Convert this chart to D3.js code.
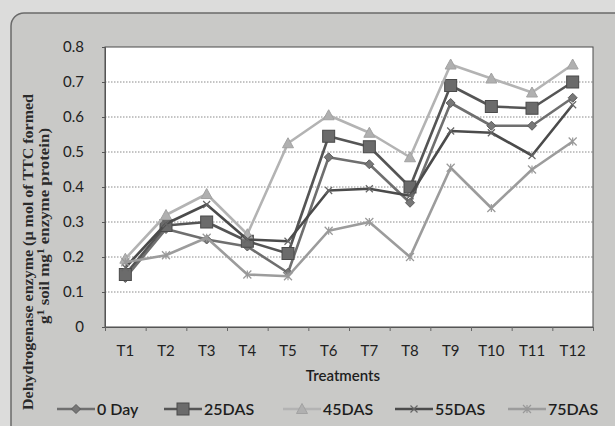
<!DOCTYPE html>
<html><head><meta charset="utf-8">
<script src="https://cdnjs.cloudflare.com/ajax/libs/d3/7.8.5/d3.min.js"></script>
<style>
html,body{margin:0;padding:0;background:#dcdcdb;}
svg{display:block;}
</style></head><body>
<svg id="c" width="615" height="426"></svg>
<script>
const categories = ["T1","T2","T3","T4","T5","T6","T7","T8","T9","T10","T11","T12"];
const seriesNames = ["0 Day","25DAS","45DAS","55DAS","75DAS"];
const day0  = [0.14,0.28,0.25,0.23,0.155,0.485,0.465,0.355,0.64,0.575,0.575,0.655];
const das25 = [0.15,0.29,0.30,0.245,0.21,0.545,0.515,0.40,0.69,0.63,0.625,0.70];
const das45 = [0.195,0.32,0.38,0.265,0.525,0.605,0.555,0.485,0.75,0.71,0.67,0.75];
const das55 = [0.17,0.295,0.35,0.25,0.245,0.39,0.395,0.375,0.56,0.555,0.49,0.635];
const das75 = [0.185,0.205,0.255,0.15,0.145,0.275,0.30,0.20,0.455,0.34,0.45,0.53];
const yTicks = [0,0.1,0.2,0.3,0.4,0.5,0.6,0.7,0.8];

const seriesValues = [day0, das25, das45, das55, das75];
const styles = [
  {line:"#6f6f6f", fill:"#777", stroke:"#5c5c5c", marker:"diamond", size:9},
  {line:"#555",    fill:"#6b6b6b", stroke:"#4a4a4a", marker:"square", size:12},
  {line:"#b3b3b3", fill:"#b0b0b0", stroke:"#a2a2a2", marker:"triangle", size:11},
  {line:"#4b4b4b", fill:"none", stroke:"#666", marker:"x", size:7},
  {line:"#9c9c9c", fill:"none", stroke:"#999", marker:"star", size:8}
];

const svg = d3.select("#c");
// chart area background
svg.append("rect").attr("x",11).attr("y",13).attr("width",640).attr("height",450)
  .attr("rx",13).attr("fill","#c9c9c7").attr("stroke","#6a6a6a").attr("stroke-width",1.5);

const L=105, R=593, T=47, B=327;
const x = d3.scaleBand().domain(categories).range([L,R]).paddingInner(0).paddingOuter(0);
const xb = d3.scaleLinear().domain([0,12]).range([L,R]);
const y = d3.scaleLinear().domain([0,0.8]).range([B,T]);

svg.append("rect").attr("x",L).attr("y",T).attr("width",R-L).attr("height",B-T).attr("fill","#fff");

// gridlines
svg.append("g").selectAll("line").data(yTicks.filter(v=>v>0 && v<0.8)).join("line")
  .attr("x1",L).attr("x2",R).attr("y1",d=>y(d)).attr("y2",d=>y(d))
  .attr("stroke","#8a8a8a").attr("stroke-width",1).attr("stroke-dasharray","1.5,1.5");

// plot border
svg.append("rect").attr("x",L).attr("y",T).attr("width",R-L).attr("height",B-T)
  .attr("fill","none").attr("stroke","#4a4a4a").attr("stroke-width",1);

// y axis
const gy = svg.append("g").attr("transform",`translate(${L},0)`)
  .call(d3.axisLeft(y).tickValues(yTicks).tickSize(3).tickPadding(18)
    .tickFormat(d=> d===0 ? "0" : d3.format(".1f")(d)));
gy.select(".domain").attr("stroke","#555");
gy.selectAll(".tick line").attr("stroke","#555");
gy.selectAll("text").attr("font-family","Lato, 'Open Sans', sans-serif").attr("font-size",15).attr("fill","#222");

// x axis boundary ticks
const gxb = svg.append("g").attr("transform",`translate(0,${B})`)
  .call(d3.axisBottom(xb).tickValues(d3.range(0,13)).tickSize(4).tickFormat(""));
gxb.select(".domain").attr("stroke","#555");
gxb.selectAll(".tick line").attr("stroke","#666");
// x labels
const gx = svg.append("g").attr("transform",`translate(0,${B})`)
  .call(d3.axisBottom(x).tickSize(0).tickPadding(18));
gx.select(".domain").remove();
gx.selectAll("text").attr("font-family","Lato, 'Open Sans', sans-serif").attr("font-size",15).attr("fill","#222");

// axis titles
svg.append("text").attr("x",343).attr("y",381).attr("text-anchor","middle")
  .attr("font-family","Lato, 'Open Sans', sans-serif").attr("font-size",15).attr("font-weight",600)
  .attr("fill","#1e1e1e").text("Treatments");

const yt = svg.append("g").attr("font-family","'Liberation Serif', 'DejaVu Serif', serif")
  .attr("font-weight","bold").attr("fill","#2a2a2a").attr("font-size",14);
yt.append("text").attr("transform","translate(33,252) rotate(-90)").attr("text-anchor","middle")
  .attr("textLength",316).attr("lengthAdjust","spacingAndGlyphs")
  .text("Dehydrogenase enzyme (µ mol of TTC formed");
const t2 = yt.append("text").attr("transform","translate(49,226) rotate(-90)").attr("text-anchor","middle")
  .attr("textLength",196).attr("lengthAdjust","spacingAndGlyphs");
t2.append("tspan").text("g");
t2.append("tspan").attr("dy",-5).attr("font-size",10).text("1");
t2.append("tspan").attr("dy",5).text(" soil mg");
t2.append("tspan").attr("dy",-5).attr("font-size",10).text("1");
t2.append("tspan").attr("dy",5).text(" enzyme protein)");

function drawMarker(g, st, cx, cy){
  const s = st.size;
  if(st.marker==="diamond"){
    g.append("path").attr("d",`M${cx},${cy-s/2}L${cx+s/2},${cy}L${cx},${cy+s/2}L${cx-s/2},${cy}Z`)
      .attr("fill",st.fill).attr("stroke",st.stroke).attr("stroke-width",1);
  } else if(st.marker==="square"){
    g.append("rect").attr("x",cx-s/2).attr("y",cy-s/2).attr("width",s).attr("height",s)
      .attr("fill",st.fill).attr("stroke",st.stroke).attr("stroke-width",1);
  } else if(st.marker==="triangle"){
    g.append("path").attr("d",`M${cx},${cy-s/2}L${cx+s/2},${cy+s/2-1}L${cx-s/2},${cy+s/2-1}Z`)
      .attr("fill",st.fill).attr("stroke",st.stroke).attr("stroke-width",1);
  } else if(st.marker==="x"){
    g.append("path").attr("d",`M${cx-s/2},${cy-s/2}L${cx+s/2},${cy+s/2}M${cx+s/2},${cy-s/2}L${cx-s/2},${cy+s/2}`)
      .attr("stroke",st.stroke).attr("stroke-width",1.2);
  } else {
    g.append("path").attr("d",`M${cx-s/2},${cy-s/2}L${cx+s/2},${cy+s/2}M${cx+s/2},${cy-s/2}L${cx-s/2},${cy+s/2}M${cx},${cy-s/2}L${cx},${cy+s/2}`)
      .attr("stroke",st.stroke).attr("stroke-width",1.2);
  }
}

const line = d3.line().x((d,i)=>x(categories[i])+x.bandwidth()/2).y(d=>y(d));
seriesValues.forEach((vals,k)=>{
  const st = styles[k];
  const g = svg.append("g");
  g.append("path").datum(vals).attr("d",line).attr("fill","none")
    .attr("stroke",st.line).attr("stroke-width",2.6).attr("stroke-linejoin","round");
  vals.forEach((v,i)=>drawMarker(g, st, x(categories[i])+x.bandwidth()/2, y(v)));
});

// legend
const legX = [57,164,283,395,508];
const lg = svg.append("g");
seriesNames.forEach((name,k)=>{
  const st = styles[k];
  const x0 = legX[k], x1 = x0+38, ly = 409;
  lg.append("line").attr("x1",x0).attr("x2",x1).attr("y1",ly).attr("y2",ly)
    .attr("stroke",st.line).attr("stroke-width",2.6);
  drawMarker(lg, st, (x0+x1)/2, ly);
  lg.append("text").attr("x",x1+2).attr("y",ly+5.5)
    .attr("font-family","Lato, 'Open Sans', sans-serif").attr("font-size",16).attr("font-weight",600)
    .attr("fill","#1e1e1e").text(name);
});
</script>
</body></html>
